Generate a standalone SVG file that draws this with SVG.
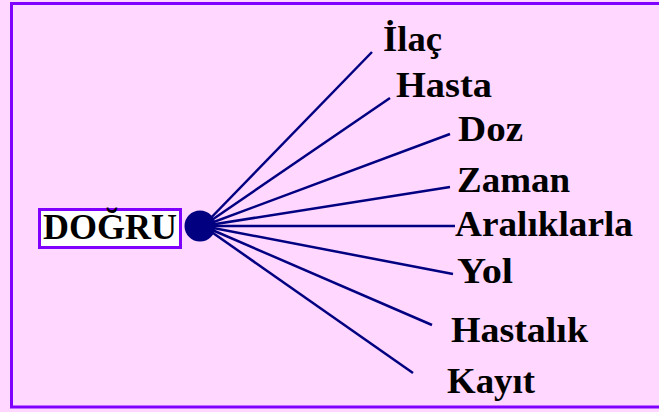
<svg xmlns="http://www.w3.org/2000/svg" width="659" height="412" viewBox="0 0 659 412">
  <style>
    .lbl { font-family: "Liberation Serif", "Times New Roman", serif; font-weight: bold; font-size: 36px; fill: #000; }
    .ln { stroke: #000080; stroke-width: 2.5; fill: none; }
  </style>
  <rect x="0" y="0" width="659" height="412" fill="#FFD7FF"/>
  <rect x="11.5" y="3.5" width="660" height="403.5" fill="none" stroke="#8000FF" stroke-width="3"/>
  <g id="connectors">
    <line class="ln" x1="203" y1="226" x2="372" y2="52"/>
    <line class="ln" x1="203" y1="226" x2="390" y2="98"/>
    <line class="ln" x1="203" y1="226" x2="450" y2="134"/>
    <line class="ln" x1="203" y1="226" x2="450" y2="187"/>
    <line class="ln" x1="203" y1="226" x2="455" y2="226"/>
    <line class="ln" x1="203" y1="226" x2="453" y2="274"/>
    <line class="ln" x1="203" y1="226" x2="432" y2="325"/>
    <line class="ln" x1="203" y1="226" x2="413" y2="373"/>
  </g>
  <g id="hub">
    <circle cx="200" cy="226" r="15.5" fill="#000080"/>
  </g>
  <g id="dogru">
    <rect x="39.5" y="209.5" width="141" height="38" fill="#FFFFFF" stroke="#8000FF" stroke-width="3"/>
    <text class="lbl" x="43" y="239" font-size="32" textLength="134" lengthAdjust="spacingAndGlyphs">DOĞRU</text>
  </g>
  <g id="ilac"><text class="lbl" x="383" y="51" textLength="59" lengthAdjust="spacingAndGlyphs">İlaç</text></g>
  <g id="hasta"><text class="lbl" x="396" y="97" textLength="96" lengthAdjust="spacingAndGlyphs">Hasta</text></g>
  <g id="doz"><text class="lbl" x="458" y="141" textLength="65" lengthAdjust="spacingAndGlyphs">Doz</text></g>
  <g id="zaman"><text class="lbl" x="457" y="192" textLength="113" lengthAdjust="spacingAndGlyphs">Zaman</text></g>
  <g id="araliklarla"><text class="lbl" x="455" y="236" textLength="178" lengthAdjust="spacingAndGlyphs">Aralıklarla</text></g>
  <g id="yol"><text class="lbl" x="457" y="283" textLength="56" lengthAdjust="spacingAndGlyphs">Yol</text></g>
  <g id="hastalik"><text class="lbl" x="451" y="342" textLength="137" lengthAdjust="spacingAndGlyphs">Hastalık</text></g>
  <g id="kayit"><text class="lbl" x="447" y="393" textLength="88" lengthAdjust="spacingAndGlyphs">Kayıt</text></g>
</svg>
